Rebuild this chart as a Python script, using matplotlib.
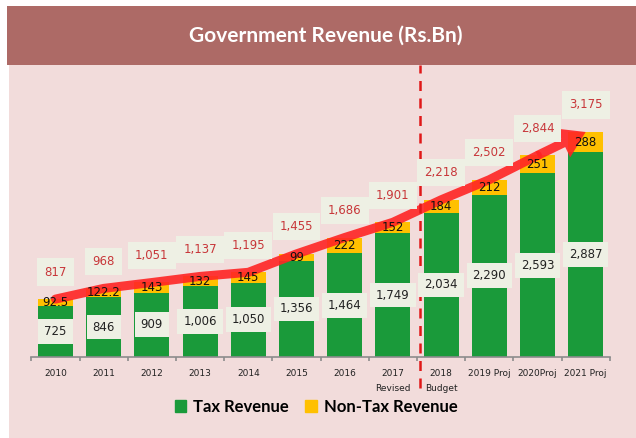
import numpy as np
import matplotlib.pyplot as plt
from matplotlib.patches import Rectangle
import matplotlib.transforms as mtransforms

years = ["2010", "2011", "2012", "2013", "2014", "2015", "2016",
         "2017\nRevised", "2018\nBudget", "2019 Proj", "2020Proj", "2021 Proj"]
tax = [725, 846, 909, 1006, 1050, 1356, 1464, 1749, 2034, 2290, 2593, 2887]
nontax = [92.5, 122.2, 143, 132, 145, 99, 222, 152, 184, 212, 251, 288]
nontax_lbl = ["92.5", "122.2", "143", "132", "145", "99", "222", "152",
              "184", "212", "251", "288"]
totals = [817, 968, 1051, 1137, 1195, 1455, 1686, 1901, 2218, 2502, 2844, 3175]

green = "#1a9a3a"
yellow = "#ffc000"
band = "#ad6a66"
pink = "#f2dcdb"
boxc = "#eef0e4"
redtxt = "#c8373a"
arrowred = "#ff2424"
font = "Lato"

fig = plt.figure(figsize=(6.36, 4.38), dpi=100)
fig.patch.set_facecolor("white")
W, H = 636, 438

# background panels
fig.patches.append(Rectangle((9 / W, 0), 1, (H - 65) / H, transform=fig.transFigure,
                             facecolor=pink, edgecolor="none", zorder=-10))
fig.patches.append(Rectangle((7 / W, (H - 65) / H), 1, 59 / H, transform=fig.transFigure,
                             facecolor=band, edgecolor="none", zorder=-10))
fig.text(326 / W, (H - 36) / H, "Government Revenue (Rs.Bn)", color="white",
         fontsize=15, fontweight="bold", family=font, ha="center", va="center")

ax = fig.add_axes([31.4 / W, (H - 357) / H, (609.8 - 31.4) / W, 287 / H])
ax.set_facecolor("none")
x = np.arange(len(years))
ax.bar(x, tax, width=0.73, color=green, zorder=2)
ax.bar(x, nontax, bottom=tax, width=0.73, color=yellow, zorder=2)
ax.set_xlim(-0.5, 11.5)
ax.set_ylim(0, 4050)

for s in ["top", "right", "left"]:
    ax.spines[s].set_visible(False)
ax.spines["bottom"].set_color("#8c8c8c")
ax.spines["bottom"].set_linewidth(1.2)
ax.set_yticks([])
ax.set_xticks(x)
ax.set_xticklabels(years, fontsize=6.5, family="DejaVu Sans", color="#222222",
                   linespacing=1.8)
ax.tick_params(axis="x", which="major", length=0, pad=9)
ax.set_xticks(np.arange(-0.5, 12, 1), minor=True)
ax.tick_params(axis="x", which="minor", length=3, color="#8c8c8c", width=1.2)

# red trend line through the totals, arrow head on the last step
ax.plot(x[:-1], totals[:-1], color=arrowred, lw=6.5, solid_capstyle="round",
        solid_joinstyle="round", zorder=3, alpha=0.9)
ax.annotate("", xy=(x[-1], totals[-1]), xytext=(x[-2], totals[-2]),
            arrowprops=dict(arrowstyle="simple,head_length=0.9,head_width=1.15,tail_width=0.33",
                            mutation_scale=20, color=arrowred, lw=0, alpha=0.9,
                            shrinkA=0, shrinkB=0), zorder=3)

# labels
for i in range(len(years)):
    ax.text(i, tax[i] / 2, f"{tax[i]:,}", ha="center", va="center", fontsize=8.5,
            family="DejaVu Sans", color="#222222", zorder=5,
            bbox=dict(boxstyle="square,pad=0.5", fc=boxc, ec="none"))
    ax.text(i, tax[i] + nontax[i] / 2, nontax_lbl[i], ha="center", va="center",
            fontsize=8.5, family="DejaVu Sans", color="#111111", zorder=5)
    ax.annotate(f"{totals[i]:,}", (i, totals[i]), xytext=(0, 19.5),
                textcoords="offset points", ha="center", va="center", fontsize=8.5,
                family="DejaVu Sans", color=redtxt, zorder=5,
                bbox=dict(boxstyle="square,pad=0.6", fc=boxc, ec="none"))

# dashed divider between 2017 and 2018
trans = mtransforms.blended_transform_factory(ax.transData, fig.transFigure)
ax.plot([7.56, 7.56], [(H - 388) / H, (H - 65) / H], transform=trans, color="#e01818",
        lw=1.8, ls=(0, (4, 3)), clip_on=False, zorder=4)

# legend
hs = [Rectangle((0, 0), 1, 1, color=green), Rectangle((0, 0), 1, 1, color=yellow)]
fig.legend(hs, ["Tax Revenue", "Non-Tax Revenue"], loc="center",
           bbox_to_anchor=(316 / W, (H - 407) / H), ncol=2, frameon=False,
           prop=dict(family=font, size=12, weight="bold"), handlelength=0.7,
           handleheight=0.7, handletextpad=0.4, columnspacing=1.0)

fig.savefig("out.png", dpi=100)
